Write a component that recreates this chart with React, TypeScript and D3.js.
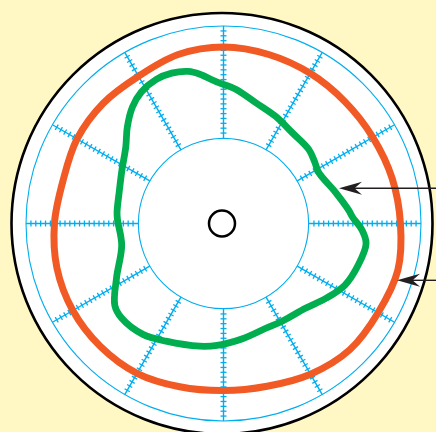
import React from 'react';
import * as d3 from 'd3';

const W = 436;
const H = 432;

// Ring radii in chart units (outer scale ring = 100)
const ringValues = [43.1, 100];
const spokeAngles = [0, 30, 60, 90, 120, 150, 180, 210, 240, 270, 300, 330];
const tickStart = 45.8;
const tickEnd = 97.5;
const tickCount = 22;

// Orange trace: angle (deg, counter-clockwise from east) and radius (units)
const orangeAngles = [0, 15, 30, 45, 60, 75, 90, 105, 120, 135, 150, 165, 180, 195, 210, 225, 240, 255, 270, 285, 300, 315, 330, 345];
const orangeRadii = [89.6, 88.4, 87.3, 87.1, 87.8, 88.6, 89.4, 88.6, 86.1, 86.1, 85.6, 84.1, 85.6, 87.3, 88.1, 88.1, 87.6, 85.6, 84.6, 85.3, 88.1, 90.4, 90.4, 91.4];

// Green trace
const greenAngles = [3, 6, 16, 28, 34, 41, 53, 64, 75, 85, 93, 99, 103, 109, 115, 122, 128, 135, 142, 152, 163, 174, 178, 192, 207, 217, 223, 234, 244, 259, 267, 279, 292, 301, 314, 324, 333, 343, 352, 357];
const greenRadii = [65.3, 63.8, 58.7, 54.7, 55.7, 57.2, 57.7, 60.3, 63.3, 68.4, 71.9, 76.5, 79.0, 80.5, 80.5, 78.5, 74.9, 68.9, 62.8, 58.2, 55.2, 54.2, 53.7, 52.7, 60.8, 68.9, 70.4, 69.4, 66.3, 63.3, 61.8, 59.2, 57.2, 57.7, 59.7, 64.3, 68.9, 71.4, 72.9, 70.4];

const BG = '#FFF8C4';
const BLUE = '#00AEEF';
const ORANGE = '#F15A24';
const GREEN = '#00AE4F';
const INK = '#231F20';

export default function App() {
  const cx = 223.5;
  const cy = 223.5;
  const r = d3.scaleLinear().domain([0, 100]).range([0, 197.5]);
  // math angle (deg, ccw from east) -> d3 radial angle (rad, cw from north)
  const a = d3.scaleLinear().domain([0, 360]).range([Math.PI / 2, Math.PI / 2 - 2 * Math.PI]);

  const radial = d3
    .lineRadial<[number, number]>()
    .angle((d) => a(d[0]))
    .radius((d) => r(d[1]))
    .curve(d3.curveCatmullRomClosed.alpha(0.5));

  const orangePts = orangeAngles.map((ang, i) => [ang, orangeRadii[i]] as [number, number]);
  const greenPts = greenAngles.map((ang, i) => [ang, greenRadii[i]] as [number, number]);

  const tickVals = d3.range(tickCount).map((i) => tickStart + (i * (tickEnd - tickStart)) / (tickCount - 1));
  const tickHalf = 3;

  const spokes = spokeAngles.map((deg) => {
    const t = (deg * Math.PI) / 180;
    const ux = Math.cos(t);
    const uy = -Math.sin(t);
    const px = -uy;
    const py = ux;
    const r0 = r(ringValues[0]);
    const r1 = r(ringValues[1]);
    return (
      <g key={deg}>
        <line x1={ux * r0} y1={uy * r0} x2={ux * r1} y2={uy * r1} stroke={BLUE} strokeWidth={1.4} />
        {tickVals.map((tv, j) => {
          const rr = r(tv);
          return (
            <line
              key={j}
              x1={ux * rr + px * tickHalf}
              y1={uy * rr + py * tickHalf}
              x2={ux * rr - px * tickHalf}
              y2={uy * rr - py * tickHalf}
              stroke={BLUE}
              strokeWidth={1.3}
            />
          );
        })}
      </g>
    );
  });

  const arrow = (tipX: number, y: number, key: string) => (
    <g key={key}>
      <line x1={tipX + 14} y1={y} x2={W + 2} y2={y} stroke={INK} strokeWidth={1.4} />
      <path
        d={`M${tipX},${y} L${tipX + 23},${y - 6.5} L${tipX + 15.5},${y} L${tipX + 23},${y + 6.5} Z`}
        fill={INK}
      />
    </g>
  );

  return (
    <svg
      width={W}
      height={H}
      style={{ position: 'absolute', left: 0, top: 0, display: 'block' }}
      xmlns="http://www.w3.org/2000/svg"
    >
      <rect x={0} y={0} width={W} height={H} fill={BG} />
      <circle cx={222} cy={cy} r={210.5} fill="#ffffff" stroke="#000000" strokeWidth={2.6} />
      <g transform={`translate(${cx},${cy})`}>
        {ringValues.map((v) => (
          <circle key={v} r={r(v)} fill="none" stroke={BLUE} strokeWidth={1.1} />
        ))}
        {spokes}
        <path d={radial(orangePts) || ''} fill="none" stroke={ORANGE} strokeWidth={7} strokeLinejoin="round" />
        <path d={radial(greenPts) || ''} fill="none" stroke={GREEN} strokeWidth={6.8} strokeLinejoin="round" />
        <circle cx={-1.5} cy={0} r={13} fill="#ffffff" stroke="#000000" strokeWidth={2.5} />
      </g>
      {arrow(339, 188.3, 'a1')}
      {arrow(397, 280.3, 'a2')}
    </svg>
  );
}
